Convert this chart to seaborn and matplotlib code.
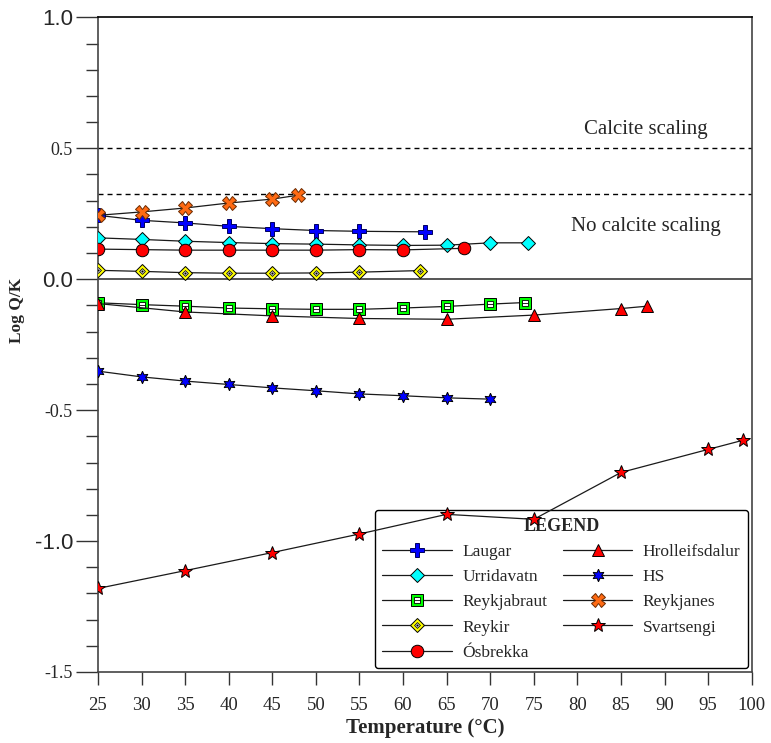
import matplotlib
matplotlib.use("Agg")
import matplotlib.pyplot as plt
import seaborn as sns
from matplotlib.lines import Line2D
from matplotlib.ticker import MultipleLocator

# data (temperature in C, log Q/K)
laugar_t = [25, 30, 35, 40, 45, 50, 55, 62.5]
laugar_v = [0.244, 0.225, 0.215, 0.202, 0.193, 0.186, 0.183, 0.181]

urrid_t = [25, 30, 35, 40, 45, 50, 55, 60, 65, 70, 74.3]
urrid_v = [0.158, 0.152, 0.145, 0.140, 0.136, 0.134, 0.131, 0.129, 0.130, 0.139, 0.139]

reykjab_t = [25, 30, 35, 40, 45, 50, 55, 60, 65, 70, 74]
reykjab_v = [-0.090, -0.097, -0.103, -0.110, -0.113, -0.115, -0.115, -0.110, -0.104, -0.095, -0.089]

reykir_t = [25, 30, 35, 40, 45, 50, 55, 62]
reykir_v = [0.034, 0.030, 0.025, 0.023, 0.023, 0.024, 0.027, 0.033]

osbrekka_t = [25, 30, 35, 40, 45, 50, 55, 60, 67]
osbrekka_v = [0.115, 0.113, 0.111, 0.111, 0.111, 0.111, 0.113, 0.112, 0.118]

hroll_t = [25, 35, 45, 55, 65, 75, 85, 88]
hroll_v = [-0.093, -0.125, -0.140, -0.150, -0.153, -0.137, -0.112, -0.103]

hs_t = [25, 30, 35, 40, 45, 50, 55, 60, 65, 70]
hs_v = [-0.351, -0.373, -0.389, -0.402, -0.415, -0.426, -0.438, -0.445, -0.453, -0.458]

reykjanes_t = [25, 30, 35, 40, 45, 48]
reykjanes_v = [0.244, 0.257, 0.272, 0.291, 0.306, 0.321]

svarts_t = [25, 35, 45, 55, 65, 75, 85, 95, 99]
svarts_v = [-1.181, -1.113, -1.044, -0.973, -0.898, -0.917, -0.738, -0.650, -0.615]

scaling_limit = 0.327

sns.set_style("white")
plt.rcParams["font.family"] = ["Liberation Serif", "DejaVu Serif"]

fig = plt.figure(figsize=(7.71, 7.43), dpi=100)
ax = fig.add_axes([0.127, 0.0956, 0.848, 0.881])

# reference lines
ax.axhline(0.0, color="#555555", lw=1.4, zorder=1)
ax.axhline(0.5, color="black", lw=1.0, dashes=(3.6, 2.9), zorder=1)
ax.axhline(scaling_limit, color="black", lw=1.0, dashes=(3.6, 2.9), zorder=1)

line_kw = dict(color="#1a1a1a", lw=0.9, markeredgewidth=0.7, sort=False, zorder=6)

styles = {
    "Laugar": dict(marker="P", markerfacecolor="#0000ff", markeredgecolor="#000060", markersize=9.5),
    "Urridavatn": dict(marker="D", markerfacecolor="#00ffff", markeredgecolor="black", markersize=7),
    "Reykjabraut": dict(marker="s", markerfacecolor="#00ff00", markeredgecolor="black", markersize=8.5),
    "Reykir": dict(marker="D", markerfacecolor="#ffff00", markeredgecolor="black", markersize=6.8),
    "Ósbrekka": dict(marker="o", markerfacecolor="#ff0000", markeredgecolor="black", markersize=9),
    "Hrolleifsdalur": dict(marker="^", markerfacecolor="#ff0000", markeredgecolor="black", markersize=9),
    "HS": dict(marker=(6, 1, 0), markerfacecolor="#0000ff", markeredgecolor="black", markersize=9),
    "Reykjanes": dict(marker="X", markerfacecolor="#ff6a13", markeredgecolor="#6b2a00", markersize=9.5),
    "Svartsengi": dict(marker="*", markerfacecolor="#ff0000", markeredgecolor="black", markersize=10.5),
}

series = [
    ("Laugar", laugar_t, laugar_v),
    ("Urridavatn", urrid_t, urrid_v),
    ("Reykjabraut", reykjab_t, reykjab_v),
    ("Reykir", reykir_t, reykir_v),
    ("Ósbrekka", osbrekka_t, osbrekka_v),
    ("Hrolleifsdalur", hroll_t, hroll_v),
    ("HS", hs_t, hs_v),
    ("Reykjanes", reykjanes_t, reykjanes_v),
    ("Svartsengi", svarts_t, svarts_v),
]

# inner decorations of the square and diamond symbols
inner_sq = dict(marker="s", markerfacecolor="white", markeredgecolor="black", markersize=3.8, markeredgewidth=0.6)
inner_sq_line = dict(marker="_", markeredgecolor="black", markersize=3.8, markeredgewidth=0.6)
inner_dia = dict(marker="D", markerfacecolor="#c8c8c8", markeredgecolor="black", markersize=3.0, markeredgewidth=0.5)
inner_dot = dict(marker="o", markerfacecolor="black", markeredgecolor="black", markersize=1.0, markeredgewidth=0.3)

for name, t, v in series:
    sns.lineplot(x=t, y=v, ax=ax, **line_kw, **styles[name])
    if name == "Reykjabraut":
        sns.lineplot(x=t, y=v, ax=ax, linestyle="none", sort=False, zorder=6, **inner_sq)
        sns.lineplot(x=t, y=v, ax=ax, linestyle="none", sort=False, zorder=6, **inner_sq_line)
    if name == "Reykir":
        sns.lineplot(x=t, y=v, ax=ax, linestyle="none", sort=False, zorder=6, **inner_dia)
        sns.lineplot(x=t, y=v, ax=ax, linestyle="none", sort=False, zorder=6, **inner_dot)

ax.text(87.9, 0.572, "Calcite scaling", fontsize=15, ha="center", va="center")
ax.text(87.9, 0.202, "No calcite scaling", fontsize=15, ha="center", va="center")

# axes
ax.set_xlim(25, 100)
ax.set_ylim(-1.5, 1.0)
ax.xaxis.set_major_locator(MultipleLocator(5))
ax.yaxis.set_minor_locator(MultipleLocator(0.1))
yt = [-1.5, -1.0, -0.5, 0.0, 0.5, 1.0]
ax.set_yticks(yt)
ax.set_yticklabels([f"{y:.1f}" for y in yt])
for lab, y in zip(ax.get_yticklabels(), yt):
    if abs(y - round(y)) < 1e-9:
        lab.set_fontfamily("Liberation Sans")
        lab.set_fontsize(16)
    else:
        lab.set_fontfamily("Liberation Serif")
        lab.set_fontsize(13)
ax.tick_params(axis="x", which="major", direction="out", length=9, width=1, pad=9,
               labelsize=13.5, bottom=True, color="#333333")
ax.tick_params(axis="y", which="major", direction="out", length=16, width=1, pad=2,
               left=True, color="#333333")
ax.tick_params(axis="y", which="minor", direction="out", length=8.5, width=1,
               left=True, color="#333333")
for s in ax.spines.values():
    s.set_color("#444444")
    s.set_linewidth(1.2)
ax.spines["top"].set_color("black")

ax.set_xlabel("Temperature (°C)", fontsize=15, fontweight="bold", labelpad=3)
ax.set_ylabel("Log Q/K", fontsize=12.5, fontweight="bold")
ax.yaxis.set_label_coords(-0.112, 0.553)

# legend
handles = []
for name, t, v in series:
    h = Line2D([], [], color="#1a1a1a", lw=0.9, markeredgewidth=0.7, **styles[name])
    if name == "Reykjabraut":
        h = (h, Line2D([], [], linestyle="none", **inner_sq), Line2D([], [], linestyle="none", **inner_sq_line))
    elif name == "Reykir":
        h = (h, Line2D([], [], linestyle="none", **inner_dia), Line2D([], [], linestyle="none", **inner_dot))
    handles.append(h)
labels = [s[0] for s in series]

leg = ax.legend(handles, labels, ncol=2, loc="lower right", bbox_to_anchor=(1.0, 0.0),
                borderaxespad=0.2, fontsize=12.5, title="LEGEND",
                title_fontproperties={"weight": "bold", "size": 13, "family": "Liberation Serif"},
                handlelength=4.0, handletextpad=0.6, columnspacing=0.9, labelspacing=0.52,
                fancybox=True, framealpha=1, edgecolor="black", borderpad=0.45)
leg.get_frame().set_linewidth(1.0)
leg.set_zorder(4)

fig.savefig("out.png", dpi=100)
